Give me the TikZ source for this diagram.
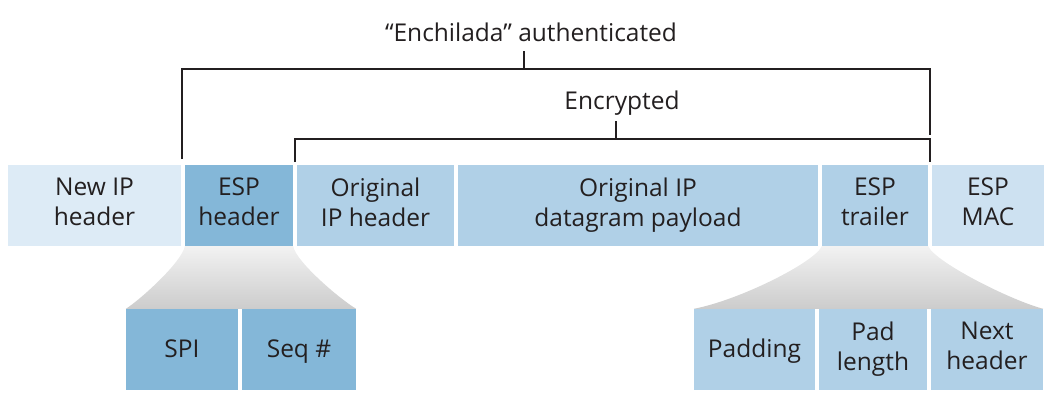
\documentclass[tikz,border=0pt]{standalone}
\usepackage{fontspec}
\setmainfont{Open Sans}
\definecolor{txt}{HTML}{231F20}
\definecolor{pale}{HTML}{DDEBF6}
\definecolor{mid}{HTML}{B0D0E7}
\definecolor{dark}{HTML}{84B7D8}
\definecolor{mac}{HTML}{CDE1F1}
\newcommand{\fieldstrut}{\rule[-7pt]{0pt}{30pt}}
\begin{document}
\begin{tikzpicture}[x=1pt, y=-1pt, font=\fontsize{24.5}{30}\selectfont, text=txt,
		field/.style={rectangle, inner sep=0pt, minimum height=81pt, align=center,
			execute at begin node=\fieldstrut, execute at end node=\fieldstrut},
		bracket/.style={draw=txt, line width=2pt},
		funnel/.style={top color=gray!10, bottom color=gray!40}]
		\useasboundingbox (0,0) rectangle (1053,405);
		% top row
		\node[field, fill=pale, minimum width=173pt] (newip) at (94.5,205.5) {New IP\\header};
		\node[field, fill=dark, minimum width=108pt] (esph) at (239,205.5) {ESP\\header};
		\node[field, fill=mid, minimum width=157pt] (origip) at (375.5,205.5) {Original\\IP header};
		\node[field, fill=mid, minimum width=360pt] (payload) at (638,205.5) {Original IP\\datagram payload};
		\node[field, fill=mid, minimum width=106pt] (trailer) at (875,205.5) {ESP\\trailer};
		\node[field, fill=mac, minimum width=112pt] (espmac) at (988,205.5) {ESP\\MAC};
		% bottom row
		\node[field, fill=dark, minimum width=112pt] (spi) at (182,349.5) {SPI};
		\node[field, fill=dark, minimum width=114pt] (seq) at (299,349.5) {Seq \#};
		\node[field, fill=mid, minimum width=121pt] (padding) at (754.5,349.5) {Padding};
		\node[field, fill=mid, minimum width=108pt] (padlen) at (873,349.5) {Pad\\length};
		\node[field, fill=mid, minimum width=112pt] (nexth) at (987,349.5) {Next\\header};
		% funnels
		\shade[funnel] (esph.south west) .. controls (182,262) and (140,300) .. (spi.north west)
			-- (seq.north east) .. controls (341,300) and (296,262) .. (esph.south east) -- cycle;
		\shade[funnel] (trailer.south west) .. controls (815,262) and (740,300) .. (padding.north west)
			-- (nexth.north east) .. controls (1010,300) and (935,262) .. (trailer.south east) -- cycle;
		% brackets
		\node (ench) at (531,32) {``Enchilada'' authenticated};
		\node (encr) at (622,103) {Encrypted};
		\coordinate (authL) at (182,159);
		\coordinate (authR) at (930,135);
		\coordinate (authT) at (524,69);
		\coordinate (encrL) at (295,162);
		\coordinate (encrR) at (930,162);
		\coordinate (encrT) at (616,139);
		\draw[bracket] (authL) |- (authR |- authT) -- (authR);
		\draw[bracket] (authT) -- (524,51);
		\draw[bracket] (encrL) |- (encrR |- encrT) -- (encrR);
		\draw[bracket] (encrT) -- (616,121);
	\end{tikzpicture}
\end{document}
